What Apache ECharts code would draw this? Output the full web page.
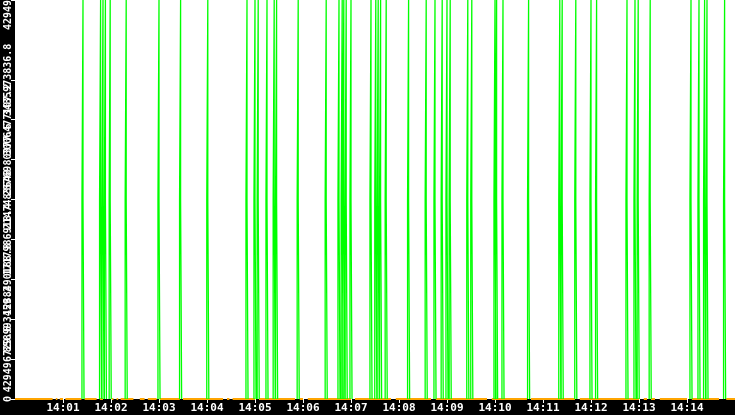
<!DOCTYPE html>
<html>
<head>
<meta charset="utf-8">
<script src="https://cdn.jsdelivr.net/npm/echarts@6/dist/echarts.min.js"></script>
<style>
  html, body { margin: 0; padding: 0; background: #000; }
  #chart { width: 735px; height: 415px; }
</style>
</head>
<body>
<div id="chart"></div>
<script>
// x axis: seconds after 14:00, one tick per minute
var startMinute = 14 * 60;
var spanSeconds = 900;

// y axis: 0 .. 2^32 in ten steps
var yMax = 4294967296;
var yStep = 429496729.6;
var midLevel = 2147483648;

// times of the green pulses (each rises to midLevel with a spike to yMax)
var pulseTimes = [
    '14:01:25', '14:01:47', '14:01:50', '14:01:53', '14:01:59', '14:02:19',
    '14:03:00', '14:03:27', '14:04:01', '14:04:50', '14:05:00', '14:05:04',
    '14:05:15', '14:05:24', '14:05:27', '14:05:54', '14:06:29', '14:06:45',
    '14:06:49', '14:06:51', '14:06:54', '14:07:00', '14:07:25', '14:07:31',
    '14:07:34', '14:07:37', '14:07:44', '14:08:12', '14:08:34', '14:08:45',
    '14:08:54', '14:09:00', '14:09:04', '14:09:26', '14:09:31', '14:10:00',
    '14:10:02', '14:10:10', '14:10:42', '14:11:21', '14:11:24', '14:11:41',
    '14:12:00', '14:12:07', '14:12:45', '14:12:55', '14:12:59', '14:13:14',
    '14:14:05', '14:14:15', '14:14:22', '14:14:25', '14:14:47'
];
var pulseHalfWidth = 1.3; // seconds

// stretches (seconds after 14:00) where the orange baseline series has data
var baseSegments = [
    [0, 47], [51, 53], [56, 60], [63, 83], [87, 102], [106, 110], [121, 123],
    [127, 129], [132, 148], [156, 162], [166, 177], [181, 206], [210, 260],
    [265, 268], [272, 300], [305, 350], [356, 360], [366, 420], [425, 470],
    [476, 520], [526, 590], [596, 640], [645, 700], [706, 780], [786, 790],
    [795, 800], [806, 840], [846, 880], [889, 900]
];

function toSeconds(s) {
    var p = s.split(':');
    return (+p[0] * 60 + +p[1] - startMinute) * 60 + +p[2];
}

function pad(n) { return n < 10 ? '0' + n : '' + n; }

var pulseData = [];
pulseTimes.forEach(function (s) {
    var t = toSeconds(s);
    var a = t - pulseHalfWidth, b = t + pulseHalfWidth;
    pulseData.push([a, 0], [a, midLevel], [t, midLevel], [t, yMax],
        [t, midLevel], [b, midLevel], [b, 0], [t, null]);
});

var baseData = [];
baseSegments.forEach(function (seg) {
    baseData.push([seg[0], 0], [seg[1], 0], [seg[1], null]);
});

var chart = echarts.init(document.getElementById('chart'));
chart.setOption({
    animation: false,
    backgroundColor: '#000',
    grid: {
        left: 15, right: 0, top: 0, bottom: 16,
        outerBoundsMode: 'none',
        containLabel: false,
        show: true, backgroundColor: '#fff', borderWidth: 0
    },
    xAxis: {
        type: 'value',
        min: 0,
        max: spanSeconds,
        interval: 60,
        axisLine: { show: false },
        axisTick: { length: 4, lineStyle: { color: '#fff' } },
        splitLine: { show: false },
        axisLabel: {
            color: '#fff',
            fontFamily: 'DejaVu Sans Mono',
            fontWeight: 'bold',
            fontSize: 11,
            margin: 4,
            showMinLabel: false,
            showMaxLabel: false,
            formatter: function (v) {
                var m = startMinute + Math.round(v / 60);
                return pad(Math.floor(m / 60)) + ':' + pad(m % 60);
            }
        }
    },
    yAxis: {
        type: 'value',
        min: 0,
        max: yMax,
        interval: yStep,
        axisLine: { show: false },
        axisTick: { length: 4, lineStyle: { color: '#fff' } },
        splitLine: { show: false },
        axisLabel: {
            color: '#fff',
            fontFamily: 'DejaVu Sans Mono',
            fontWeight: 'bold',
            fontSize: 10,
            rotate: 90,
            margin: 2,
            hideOverlap: false,
            showMinLabel: true,
            showMaxLabel: true,
            formatter: function (v) {
                return String(Math.round(v * 10) / 10);
            }
        }
    },
    series: [
        {
            type: 'line',
            data: baseData,
            showSymbol: false,
            connectNulls: false,
            lineStyle: { color: '#ffa500', width: 2 },
            z: 1
        },
        {
            type: 'line',
            data: pulseData,
            showSymbol: false,
            connectNulls: false,
            lineStyle: { color: '#00ff00', width: 1.3 },
            z: 2
        }
    ]
});
</script>
</body>
</html>
